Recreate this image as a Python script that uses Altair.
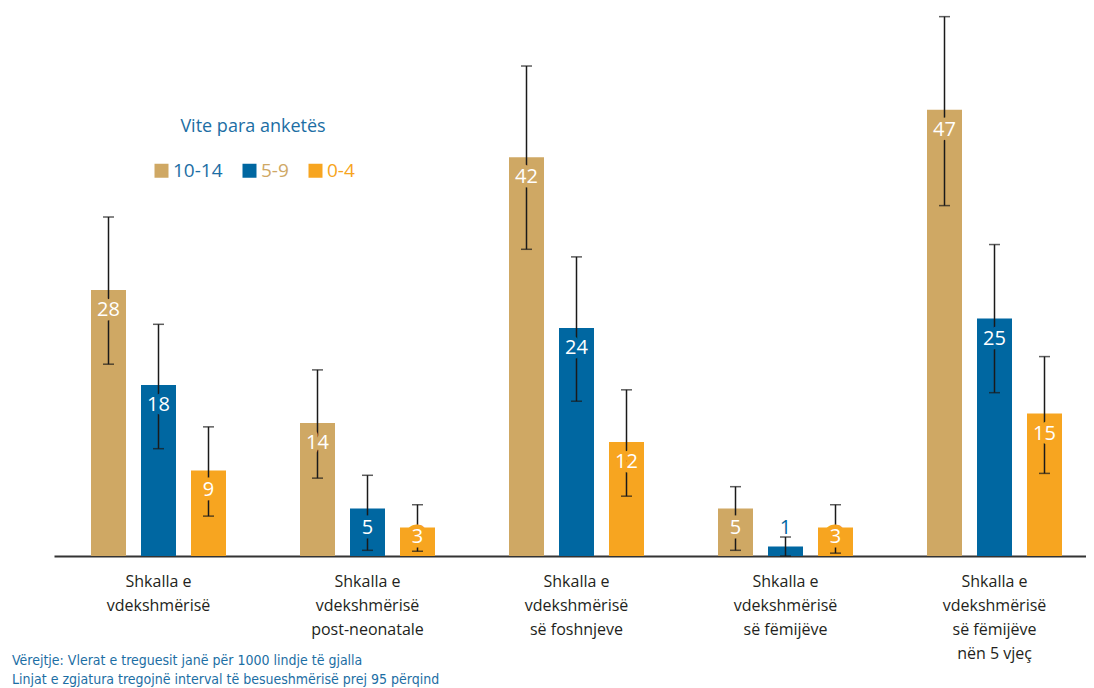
import altair as alt
import pandas as pd

# ---- data ----
groups = [
    "Shkalla e\nvdekshmërisë",
    "Shkalla e\nvdekshmërisë\npost-neonatale",
    "Shkalla e\nvdekshmërisë\nsë foshnjeve",
    "Shkalla e\nvdekshmërisë\nsë fëmijëve",
    "Shkalla e\nvdekshmërisë\nsë fëmijëve\nnën 5 vjeç",
]
series = ["10-14", "5-9", "0-4"]
colors = ["#CFA864", "#0067A1", "#F7A520"]

values_10_14 = [28, 14, 42, 5, 47]
values_5_9 = [18, 5, 24, 1, 25]
values_0_4 = [9, 3, 12, 3, 15]

lower_10_14 = [20.2, 8.2, 32.3, 0.6, 36.9]
upper_10_14 = [35.7, 19.6, 51.6, 7.3, 56.8]
lower_5_9 = [11.3, 0.6, 16.3, 0.0, 17.2]
upper_5_9 = [24.4, 8.5, 31.5, 2.0, 32.8]
lower_0_4 = [4.2, 0.5, 6.3, 0.3, 8.7]
upper_0_4 = [13.6, 5.4, 17.5, 5.4, 21.0]

legend_title = "Vite para anketës"
notes = [
    "Vërejtje: Vlerat e treguesit janë për 1000 lindje të gjalla",
    "Linjat e zgjatura  tregojnë interval të besueshmërisë prej 95 përqind",
]

BLUE_TEXT = "#1C6EA4"

rows = []
for s, vals, los, his in [
    ("10-14", values_10_14, lower_10_14, upper_10_14),
    ("5-9", values_5_9, lower_5_9, upper_5_9),
    ("0-4", values_0_4, lower_0_4, upper_0_4),
]:
    for g, v, lo, hi in zip(groups, vals, los, his):
        rows.append({"group": g, "series": s, "value": v, "lo": lo, "hi": hi})
df = pd.DataFrame(rows)

xscale = alt.Scale(range=[21, 1066], paddingInner=0, paddingOuter=0)
yscale = alt.Scale(domain=[0, 57.5], nice=False, zero=True)
cscale = alt.Scale(domain=series, range=colors)

X = alt.X("group:N", sort=groups, scale=xscale,
          axis=alt.Axis(title=None, labels=False, ticks=False, domain=True,
                        domainColor="#333333", domainWidth=2, grid=False))
XO = alt.XOffset("series:N", sort=series,
                 scale=alt.Scale(paddingInner=0.3, paddingOuter=0.74))

base = alt.Chart(df).encode(x=X, xOffset=XO)

bars = base.mark_bar().encode(
    y=alt.Y("value:Q", scale=yscale, axis=None),
    color=alt.Color(
        "series:N", scale=cscale,
        legend=alt.Legend(
            title=legend_title, orient="none", legendX=119, legendY=108,
            direction="horizontal", symbolType="square", symbolSize=196,
            symbolStrokeWidth=0, labelFontSize=19, labelFont="Open Sans",
            labelColor=alt.ExprRef(
                "datum.label == '10-14' ? '#1C6EA4' : datum.label == '5-9' ? '#CFA864' : '#F7A520'"),
            titleFontSize=18, titleFont="Open Sans", titleFontWeight="normal",
            titleColor=BLUE_TEXT, titlePadding=25, titleAnchor="middle",
            titleAlign="center", labelOffset=2, columnPadding=17, padding=0,
        ),
    ),
)

rules = base.mark_rule(color="#1a1a1a", strokeWidth=1.5).encode(
    y=alt.Y("lo:Q", scale=yscale, axis=None), y2="hi:Q")
tick_lo = base.mark_tick(color="#1a1a1a", thickness=1.5, size=11).encode(
    y=alt.Y("lo:Q", scale=yscale, axis=None))
tick_hi = base.mark_tick(color="#1a1a1a", thickness=1.5, size=11).encode(
    y=alt.Y("hi:Q", scale=yscale, axis=None))

inside = base.transform_filter("datum.value >= 2").transform_calculate(
    label_pos="max(datum.value - 2.1, 2.0)"
)

halo = inside.mark_text(
    fontSize=20, font="Open Sans", baseline="middle", strokeWidth=9,
    strokeJoin="round", strokeCap="round",
).encode(
    y=alt.Y("label_pos:Q", scale=yscale, axis=None),
    text=alt.Text("value:Q"),
    color=alt.Color("series:N", scale=cscale),
    stroke=alt.Stroke("series:N", scale=cscale, legend=None),
)
labels_in = inside.mark_text(
    fontSize=20, font="Open Sans", baseline="middle", fill="white"
).encode(
    y=alt.Y("label_pos:Q", scale=yscale, axis=None),
    text=alt.Text("value:Q"),
)
labels_out = base.transform_filter("datum.value < 2").mark_text(
    dy=-19, fontSize=20, font="Open Sans", baseline="middle"
).encode(
    y=alt.Y("value:Q", scale=yscale, axis=None),
    text=alt.Text("value:Q"),
    color=alt.Color("series:N", scale=cscale),
)

cat_labels = alt.Chart(pd.DataFrame({"group": groups})).mark_text(
    fontSize=16, font="Open Sans", color="#231F20", align="center",
    baseline="alphabetic", lineBreak="\n", lineHeight=24,
).encode(
    x=alt.X("group:N", sort=groups, scale=xscale),
    y=alt.value(577),
    text="group:N",
)

note_text = alt.Chart(pd.DataFrame({"note": ["\n".join(notes)]})).mark_text(
    fontSize=14, font="Liberation Sans Narrow, DejaVu Sans Condensed, sans-serif",
    color=BLUE_TEXT, align="left", baseline="alphabetic", lineBreak="\n",
    lineHeight=19,
).encode(
    x=alt.value(-21),
    y=alt.value(655),
    text="note:N",
)

chart = alt.layer(
    bars, rules, tick_lo, tick_hi, halo, labels_in, labels_out, cat_labels, note_text
).properties(
    width=1053, height=546,
    autosize=alt.AutoSizeParams(type="none"),
    padding={"left": 25, "top": 2, "right": 0, "bottom": 132},
).configure(
    font="Open Sans", view=alt.ViewConfig(stroke=None)
)

chart.save("out.html", embed_options={"renderer": "svg", "actions": False})
